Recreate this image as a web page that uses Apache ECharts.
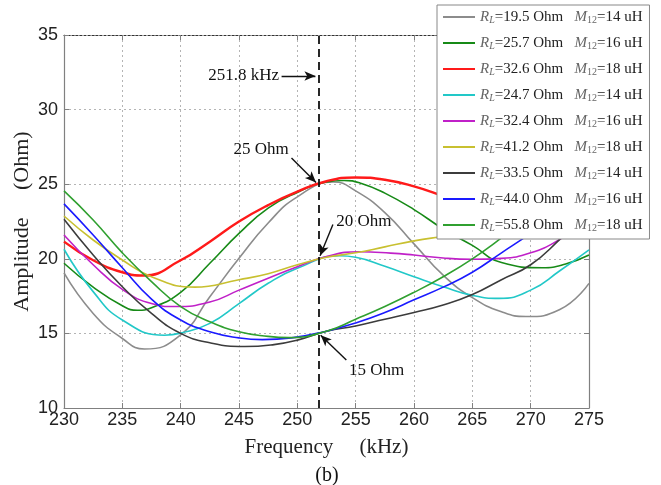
<!DOCTYPE html>
<html><head><meta charset="utf-8">
<script src="https://cdn.jsdelivr.net/npm/echarts@6/dist/echarts.min.js"></script>
<style>html,body{margin:0;padding:0;background:#fff}#c{width:661px;height:485px}</style>
</head><body><div id="c"></div><script>
// Legend categories
const loads   = ['19.5','25.7','32.6','24.7','32.4','41.2','33.5','44.0','55.8'];
const mutuals = ['14','16','18','14','16','18','14','16','18'];
const colors  = ['#8c8c8c','#178a17','#ff1a1a','#22c8c8','#c020c8','#c8c030','#3c3c3c','#1a1aff','#30a030'];

// Frequency (kHz) / amplitude (Ohm) samples read per curve
const f195 = [230,232.5,235,236.9,240,242.5,245,247.5,250,253.1,255,257.5,260,262.5,265,267.5,269.6,272.5,275];
const a195 = [19.05,16.34,14.66,13.95,14.9,17.46,20.03,22.4,24.15,25.15,24.55,23.1,21.0,18.9,17.4,16.45,16.13,16.6,18.35];
const f257 = [230,232.5,235,236.3,237.5,240,242.5,245,247.5,250,252.5,254,255.5,257.5,260,262.5,265,267.5,271,273,275];
const a257 = [19.7,18.1,16.85,16.55,16.72,17.75,19.7,21.7,23.4,24.45,25.15,25.25,25.05,24.4,23.3,22.0,20.9,19.75,19.4,19.65,20.25];
const f326 = [230,232.5,235,236.8,240,242.5,245,247.5,250,252.5,255,257.5,260,262.5,265,267.5,270,272.5,275];
const a326 = [21.15,19.9,19.1,18.88,19.9,21.15,22.5,23.6,24.5,25.2,25.45,25.3,24.85,24.2,23.5,22.85,22.35,22.05,21.95];
const f247 = [230,232.5,235,238.6,240,242.5,245,247.5,250,253.6,255,257.5,260,262.5,265,267.3,270,272.5,275];
const a247 = [20.64,17.8,15.9,14.88,15.02,15.67,17.0,18.36,19.36,20.2,20.1,19.5,18.8,18.13,17.55,17.35,17.9,19.2,20.6];
const f324 = [230,232.5,235,237.5,239.5,242.5,245,247.5,250,252.5,255.3,258,260,262.5,265,267.5,270,272.5,275];
const a324 = [21.6,19.6,17.95,17.0,16.8,17.1,17.9,18.7,19.47,20.15,20.47,20.38,20.25,20.05,19.97,20.03,20.4,21.3,22.6];
const f412 = [230,232.5,235,237.5,241.2,245,247.5,250,252.5,255,257.5,260,262.5,265,267.5,270,272.5,275];
const a412 = [22.87,21.26,19.92,18.8,18.1,18.6,19.0,19.6,20.1,20.4,20.8,21.2,21.5,21.8,22.1,22.4,22.7,23.0];
const f335 = [230,232.5,235,237.5,240,242.5,245.5,248,250,252.5,255,257.5,260,262.5,265,267.5,270,272.5,275];
const a335 = [22.65,20.26,18.13,16.34,15.0,14.37,14.12,14.25,14.55,15.15,15.5,15.95,16.4,16.9,17.6,18.6,19.6,21.3,23.2];
const f440 = [230,232.5,235,237.5,240,242.5,245,247,249.5,252.5,255,257.5,260,262.5,265,267.5,270,272.5,275];
const a440 = [23.68,21.6,19.4,17.3,15.9,15.11,14.7,14.58,14.7,15.15,15.7,16.4,17.25,18.1,19.1,20.4,21.7,23.1,24.6];
const f558 = [230,232.5,235,237.5,240,242.5,245,247.5,249.3,252.5,255,257.5,260,262.5,265,267.5,270,272.5,275];
const a558 = [24.55,22.6,20.4,18.47,16.8,15.78,15.11,14.8,14.72,15.15,15.95,16.8,17.75,18.8,20.0,21.4,22.9,24.5,26.2];
const freqSets = [f195,f257,f326,f247,f324,f412,f335,f440,f558];
const ampSets  = [a195,a257,a326,a247,a324,a412,a335,a440,a558];

// Annotation values
const markFreq = 251.8;
const crossLevels = [25, 20, 15];

const serif = '"Liberation Serif","Times New Roman",serif';
const sans = '"Liberation Sans",Arial,sans-serif';

const names = loads.map((l,i)=>'RL=' + l + ' Ohm|' + mutuals[i]);
const series = ampSets.map((vals,i)=>({
  name: names[i], type:'line', smooth:0.5, symbol:'none',
  data: freqSets[i].map((f,j)=>[f, vals[j]]),
  lineStyle:{color:colors[i], width: i===2 ? 2.4 : 1.6},
  itemStyle:{color:colors[i]}, z: 3, animation:false
}));

const arrowStyle = {color:'#111', width:1.4, type:'solid'};
series.push({
  type:'line', data:[], silent:true, animation:false, z:5,
  markLine:{
    silent:true, animation:false, symbol:['none','arrow'], symbolSize:[7,11],
    label:{show:false},
    data:[
      [{coord:[markFreq,10], symbol:'none', lineStyle:{color:'#111', width:1.8, type:[8,5]}},
       {coord:[markFreq,35], symbol:'none'}],
      [{coord:[248.65,32.25], lineStyle:arrowStyle},{coord:[251.55,32.25]}],
      [{coord:[249.5,26.75], lineStyle:arrowStyle},{coord:[251.6,crossLevels[0]+0.12]}],
      [{coord:[253.05,22.3], lineStyle:arrowStyle},{coord:[251.95,crossLevels[1]+0.2]}],
      [{coord:[254.2,13.22], lineStyle:arrowStyle},{coord:[252.0,crossLevels[2]-0.12]}]
    ]
  },
  markPoint:{
    silent:true, animation:false, symbol:'circle', symbolSize:0,
    label:{show:true, color:'#111', fontFamily:serif, fontSize:17, position:'inside'},
    data:[
      {coord:[245.4,32.3], label:{formatter: markFreq + ' kHz'}},
      {coord:[246.9,27.3], label:{formatter: crossLevels[0] + ' Ohm'}},
      {coord:[255.7,22.5], label:{formatter: crossLevels[1] + ' Ohm'}},
      {coord:[256.8,12.5], label:{formatter: crossLevels[2] + ' Ohm'}}
    ]
  }
});

const chart = echarts.init(document.getElementById('c'), null, {renderer:'canvas'});
chart.setOption({
  animation:false,
  backgroundColor:'#fff',
  title:{text:'(b)', left:322, top:461, textAlign:'center', textStyle:{fontFamily:serif, fontSize:20, fontWeight:'normal', color:'#111'}},
  grid:{left:64, top:35, width:525, height:373},
  xAxis:[{
    type:'value', min:230, max:275, interval:5, position:'bottom',
    name:'Frequency     (kHz)', nameLocation:'middle', nameGap:29,
    nameTextStyle:{fontFamily:serif, fontSize:21, color:'#222'},
    axisLine:{show:true, lineStyle:{color:'#808080', width:1.2}},
    axisTick:{show:true, inside:true, length:5, lineStyle:{color:'#808080'}},
    axisLabel:{fontFamily:sans, fontSize:18, color:'#222', margin:3},
    splitLine:{show:true, lineStyle:{color:'#b4b4b4', type:[2,3], width:1}}
  },{
    type:'value', min:230, max:275, interval:5, position:'top',
    axisLine:{show:true, lineStyle:{color:'#333', type:[2,2], width:1.2}},
    axisTick:{show:true, inside:true, length:5, lineStyle:{color:'#808080'}},
    axisLabel:{show:false}, splitLine:{show:false}
  }],
  yAxis:[{
    type:'value', min:10, max:35, interval:5, position:'left',
    name:'Amplitude     (Ohm)', nameLocation:'middle', nameGap:31, nameMoveOverlap:false,
    nameTextStyle:{fontFamily:serif, fontSize:22, color:'#222'},
    axisLine:{show:true, lineStyle:{color:'#808080', width:1.2}},
    axisTick:{show:true, inside:true, length:5, lineStyle:{color:'#808080'}},
    axisLabel:{fontFamily:sans, fontSize:18, color:'#222', margin:6},
    splitLine:{show:true, lineStyle:{color:'#b4b4b4', type:[2,3], width:1}}
  },{
    type:'value', min:10, max:35, interval:5, position:'right',
    axisLine:{show:true, lineStyle:{color:'#808080', width:1.2}},
    axisTick:{show:true, inside:true, length:5, lineStyle:{color:'#808080'}},
    axisLabel:{show:false}, splitLine:{show:false}
  }],
  legend:{
    show:true, orient:'vertical', left:437, top:5,
    data: names,
    backgroundColor:'#fff', borderColor:'#888', borderWidth:1, borderRadius:0,
    padding:[4,7,6,6], itemGap:10, itemWidth:32, itemHeight:2, icon:'rect',
    selectedMode:false, z:10,
    textStyle:{fontFamily:serif, fontSize:15, color:'#222', lineHeight:16,
      rich:{
        i:{fontFamily:serif, fontStyle:'italic', fontSize:15, color:'#666', lineHeight:16},
        s:{fontFamily:serif, fontStyle:'italic', fontSize:10, color:'#666', lineHeight:8, verticalAlign:'bottom'},
        n:{fontFamily:serif, fontSize:10, color:'#666', lineHeight:8, verticalAlign:'bottom'},
        t:{fontFamily:serif, fontSize:15, color:'#222', lineHeight:16}
      }},
    formatter: function(name){
      const i = names.indexOf(name);
      return '{i|R}{s|L}{t|=' + loads[i] + ' Ohm   }{i|M}{n|12}{t|=' + mutuals[i] + ' uH}';
    }
  },
  series: series
});
</script></body></html>
